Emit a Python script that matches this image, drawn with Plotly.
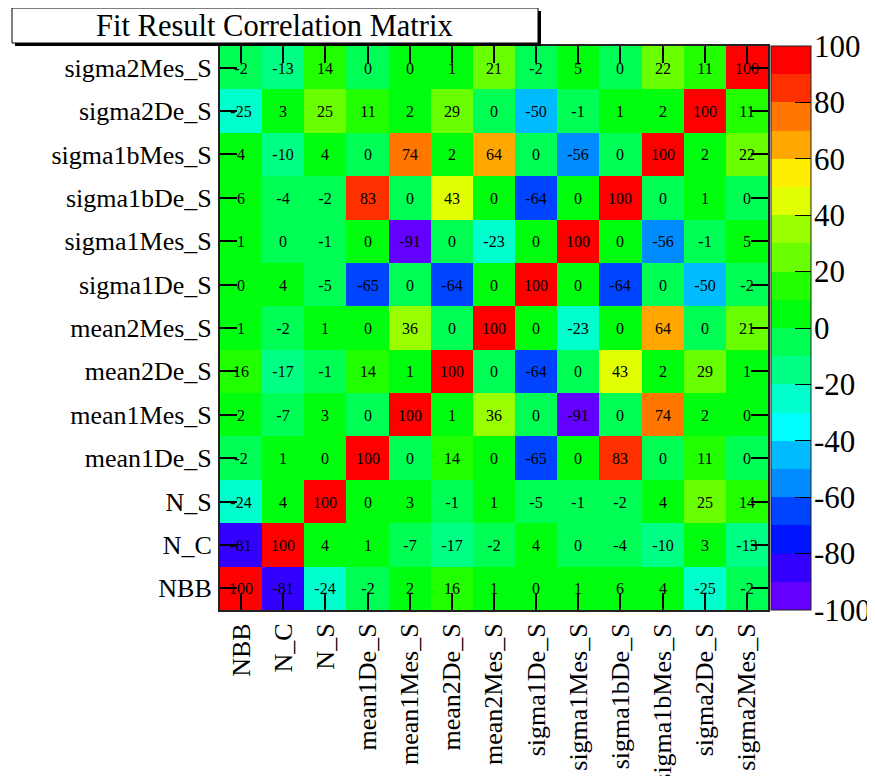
import plotly.graph_objects as go

# Parameter names (bottom-to-top for rows, left-to-right for columns)
params = ["NBB", "N_C", "N_S", "mean1De_S", "mean1Mes_S", "mean2De_S", "mean2Mes_S",
          "sigma1De_S", "sigma1Mes_S", "sigma1bDe_S", "sigma1bMes_S", "sigma2De_S", "sigma2Mes_S"]

# Correlation values in percent, one list per row (read from the picture;
# cells printed as "0" carry their estimated sign from the cell colour)
row_NBB         = [100, -81, -24, -2, 2, 16, 1, 0.3, 1, 6, 4, -25, -2]
row_N_C         = [-81, 100, 4, 1, -7, -17, -2, 4, -0.3, -4, -10.4, 3, -13]
row_N_S         = [-24, 4, 100, 0.3, 3, -1, 1, -5, -1, -2, 4, 25, 14]
row_mean1De_S   = [-2, 1, 0.3, 100, -0.3, 14, 0.3, -65, 0.3, 83, -0.3, 11, -0.3]
row_mean1Mes_S  = [2, -7, 3, -0.3, 100, 1, 36, -0.3, -91, -0.3, 74, 2, 0.3]
row_mean2De_S   = [16, -17, -1, 14, 1, 100, -0.3, -64, -0.3, 43, 2, 29, 1]
row_mean2Mes_S  = [1, -2, 1, 0.3, 36, -0.3, 100, 0.3, -23, 0.3, 64, -0.3, 21]
row_sigma1De_S  = [0.3, 4, -5, -65, -0.3, -64, 0.3, 100, 0.3, -64, -0.3, -49.8, -2]
row_sigma1Mes_S = [1, -0.3, -1, 0.3, -91, -0.3, -23, 0.3, 100, 0.3, -56, -1, 5]
row_sigma1bDe_S = [6, -4, -2, 83, -0.3, 43, 0.3, -64, 0.3, 100, -0.3, 1, -0.3]
row_sigma1bMes_S= [4, -10.4, 4, -0.3, 74, 2, 64, -0.3, -56, -0.3, 100, 2, 22]
row_sigma2De_S  = [-25, 3, 25, 11, 2, 29, -0.3, -49.8, -1, 1, 2, 100, 11]
row_sigma2Mes_S = [-2, -13, 14, -0.3, 0.3, 1, 21, -2, 5, -0.3, 22, 11, 100]

z = [row_NBB, row_N_C, row_N_S, row_mean1De_S, row_mean1Mes_S, row_mean2De_S,
     row_mean2Mes_S, row_sigma1De_S, row_sigma1Mes_S, row_sigma1bDe_S,
     row_sigma1bMes_S, row_sigma2De_S, row_sigma2Mes_S]
text = [[str(int(round(v))) for v in row] for row in z]

colorbar_ticks = [-100, -80, -60, -40, -20, 0, 20, 40, 60, 80, 100]
colorbar_labels = ["-100", "-80", "-60", "-40", "-20", "0", "20", "40", "60", "80", "100"]

# ROOT "pretty" rainbow palette, 20 contour levels
palette = [(99, 0, 255), (51, 0, 255), (0, 20, 255), (0, 68, 255), (0, 139, 255),
           (0, 187, 255), (0, 255, 252), (0, 255, 204), (0, 255, 133), (0, 255, 85),
           (0, 255, 14), (34, 255, 0), (105, 255, 0), (153, 255, 0), (224, 255, 0),
           (255, 238, 0), (255, 167, 0), (255, 119, 0), (255, 48, 0), (255, 0, 0)]
n = len(palette)
colorscale = []
for k, c in enumerate(palette):
    col = "rgb(%d,%d,%d)" % c
    colorscale.append([k / n, col])
    colorscale.append([(k + 1) / n, col])

FONT = "Liberation Serif, Times New Roman, serif"

OFF = 8  # page body margin
W, H = 875 - OFF, 776 - OFF
# plot area in screen pixels: x 220..768, y 46..610
L, T = 220 - OFF, 46 - OFF
R, B = 0, H - (610 - OFF)
pw, ph = W - L - R, H - T - B

def px2x(sx):
    return (sx - OFF - L) / pw

def px2y(sy):
    return (H - B - (sy - OFF)) / ph

fig = go.Figure()
fig.add_trace(go.Heatmap(
    x=params, y=params, z=z, text=text, texttemplate="%{text}",
    textfont=dict(family=FONT, size=16, color="black"),
    colorscale=colorscale, zmin=-100, zmax=100,
    colorbar=dict(
        x=px2x(771), xanchor="left", y=0.5, yanchor="middle",
        len=1, lenmode="fraction", thickness=40, thicknessmode="pixels",
        xpad=0, ypad=0, outlinecolor="#222", outlinewidth=1,
        tickvals=colorbar_ticks, showticklabels=False,
        ticks="inside", ticklen=16, tickcolor="black",
    ),
    hoverinfo="skip",
))
# empty trace that carries the colour-scale label axis
fig.add_trace(go.Scatter(x=[], y=[], yaxis="y2", showlegend=False, hoverinfo="skip"))

fig.update_layout(
    template="none",
    width=W, height=H,
    margin=dict(l=L, r=R, t=T, b=B, pad=0, autoexpand=False),
    paper_bgcolor="white", plot_bgcolor="white",
    font=dict(family=FONT, color="black"),
    xaxis=dict(type="category", domain=[0, px2x(768)], tickangle=-90, ticks="inside",
               ticklen=17, tickcolor="black", tickwidth=1.5, showline=True,
               linecolor="#222", linewidth=2, mirror="ticks", showgrid=False,
               zeroline=False, automargin=False, ticklabelstandoff=1,
               tickfont=dict(family=FONT, size=26, color="black")),
    yaxis=dict(type="category", ticks="inside", ticklen=17,
               tickcolor="black", tickwidth=1.5, showline=True, linecolor="#222",
               linewidth=2, mirror="ticks", showgrid=False, zeroline=False,
               automargin=False, ticklabelstandoff=1,
               tickfont=dict(family=FONT, size=26, color="black")),
    yaxis2=dict(overlaying="y", side="right", anchor="free", position=px2x(813),
                range=[-100, 100], tickvals=colorbar_ticks, ticktext=colorbar_labels,
                ticks="", showline=False, showgrid=False, zeroline=False,
                automargin=False, fixedrange=True,
                tickfont=dict(family=FONT, size=31, color="black")),
    shapes=[
        dict(type="rect", xref="paper", yref="paper",
             x0=px2x(15), x1=px2x(541), y0=px2y(46), y1=px2y(11),
             fillcolor="black", line=dict(width=0), layer="above"),
        dict(type="rect", xref="paper", yref="paper",
             x0=px2x(12), x1=px2x(538), y0=px2y(43), y1=px2y(8),
             fillcolor="white", line=dict(color="black", width=1), layer="above"),
    ],
    annotations=[
        dict(text="Fit Result Correlation Matrix", xref="paper", yref="paper",
             x=px2x(274), y=px2y(26), xanchor="center", yanchor="middle",
             showarrow=False, font=dict(family=FONT, size=30.5, color="black")),
    ],
)

fig.write_html("out.html")
